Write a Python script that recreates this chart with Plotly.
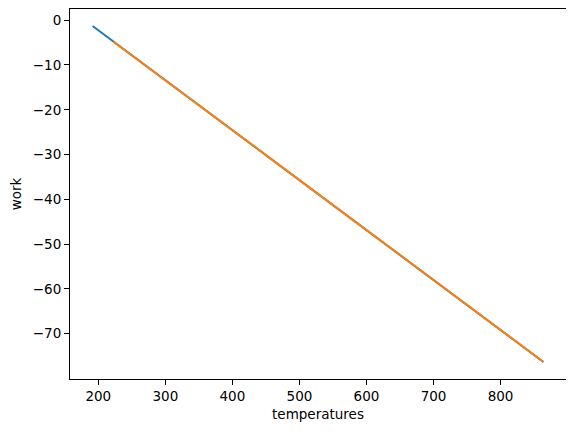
import plotly.graph_objects as go

# work vs temperature, two runs
temps_a = [191.5, 300, 500, 700, 864]
work_a = [-1.3, -13.4, -35.7, -58.0, -76.3]
temps_b = [222.5, 300, 500, 700, 864]
work_b = [-4.8, -13.4, -35.7, -58.0, -76.3]

x_ticks = [200, 300, 400, 500, 600, 700, 800]
y_ticks = [0, -10, -20, -30, -40, -50, -60, -70]

fig = go.Figure()
fig.add_trace(go.Scatter(x=temps_a, y=work_a, mode='lines',
                         line=dict(color='#1f77b4', width=2)))
fig.add_trace(go.Scatter(x=temps_b, y=work_b, mode='lines',
                         line=dict(color='#ff7f0e', width=2)))

axis_style = dict(showline=True, linecolor='black', linewidth=1, mirror=True,
                  ticks='outside', ticklen=5, tickwidth=1, tickcolor='black',
                  showgrid=False, zeroline=False,
                  tickfont=dict(size=13.5, color='black'),
                  title_font=dict(size=13.5, color='black'))

# page body adds an 8px offset, so the figure is sized a bit smaller
fig.update_layout(
    width=566, height=424,
    margin=dict(l=62, r=8, t=1, b=53),
    paper_bgcolor='white', plot_bgcolor='white',
    font=dict(family='DejaVu Sans', color='black'),
    showlegend=False,
    xaxis=dict(range=[157.8, 897.6], tickvals=x_ticks,
               title=dict(text='temperatures', standoff=6), **axis_style),
    yaxis=dict(range=[-80.1, 2.5], tickvals=y_ticks,
               title=dict(text='work', standoff=11), **axis_style),
)

fig.write_html("out.html")
